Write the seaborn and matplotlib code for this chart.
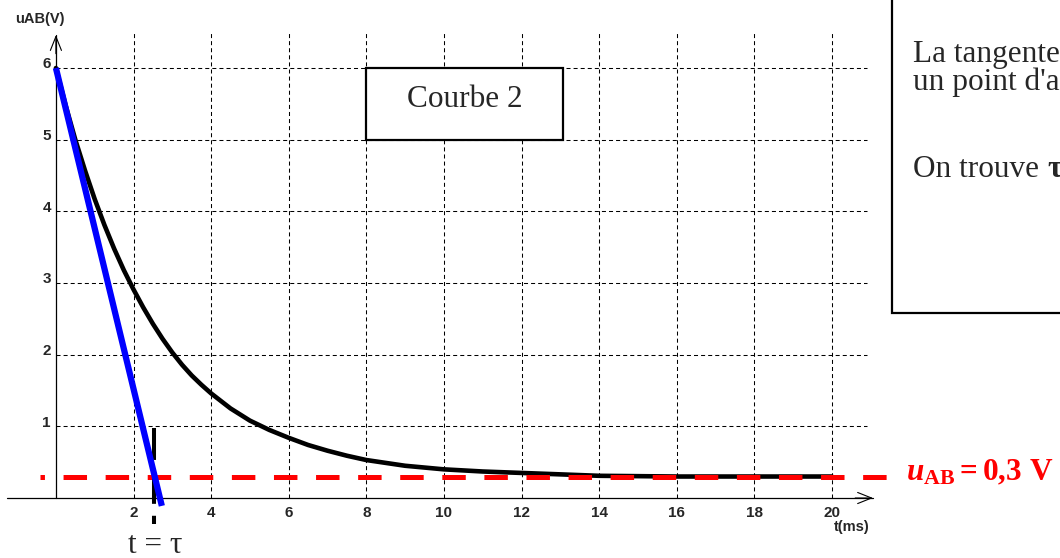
import numpy as np
import pandas as pd
import matplotlib
matplotlib.use("Agg")
import matplotlib.pyplot as plt
from matplotlib.patches import Rectangle
import seaborn as sns

# --------------------------------------------------
# DATA
# --------------------------------------------------

t_ms = [0, 0.25, 0.5, 0.75, 1, 1.25, 1.5, 1.75, 2, 2.25, 2.5, 2.75, 3,
        3.25, 3.5, 3.75, 4, 4.5, 5, 5.5, 6, 6.5, 7, 7.5, 8, 9, 10, 11,
        12, 13, 14, 16, 18, 20]
u_ab = [6.00, 5.48, 5.00, 4.57, 4.17, 3.81, 3.48, 3.18, 2.91, 2.66, 2.43,
        2.22, 2.03, 1.86, 1.71, 1.58, 1.46, 1.25, 1.08, 0.95, 0.84, 0.74,
        0.66, 0.59, 0.53, 0.45, 0.40, 0.37, 0.35, 0.33, 0.31, 0.30, 0.30,
        0.30]

# tangent at the origin
t_tangent = [0, 2.73]
u_tangent = [6.0, -0.11]

u_asymptote = 0.3
tau = 2.53

x_ticks = [2, 4, 6, 8, 10, 12, 14, 16, 18, 20]
y_ticks = [1, 2, 3, 4, 5, 6]

# --------------------------------------------------
# STYLE
# --------------------------------------------------

sns.set_style("white")
plt.rcParams["font.family"] = ["Liberation Serif", "DejaVu Serif"]
plt.rcParams["lines.scale_dashes"] = False
plt.rcParams["mathtext.fontset"] = "custom"
plt.rcParams["mathtext.rm"] = "Liberation Serif:bold"
plt.rcParams["mathtext.it"] = "Liberation Serif:italic:bold"
plt.rcParams["mathtext.bf"] = "Liberation Serif:bold"

SANS = ["Liberation Sans", "DejaVu Sans"]

fig = plt.figure(figsize=(10.6, 5.58), dpi=100)
ax = fig.add_axes([0, 0, 1, 1])
ax.set_xlim(-1.441, 25.879)
ax.set_ylim(-0.837, 6.949)
ax.axis("off")

# --------------------------------------------------
# GRID
# --------------------------------------------------

grid_style = (0, (2.9, 2.2))

ax.vlines(x_ticks, 0, 6.5, colors="black", linewidth=0.75,
          linestyles=[grid_style], zorder=1)
ax.hlines(y_ticks, 0, 20.9, colors="black", linewidth=0.75,
          linestyles=[grid_style], zorder=1)

# --------------------------------------------------
# AXES WITH ARROWS
# --------------------------------------------------

ax.plot([-1.26, 21.06], [0, 0], color="black", lw=0.9, zorder=2)
ax.plot([0, 0], [0, 6.46], color="black", lw=0.9, zorder=2)

arrow = dict(arrowstyle="->, head_length=0.5, head_width=0.2",
             lw=0.8, color="black", mutation_scale=20,
             shrinkA=0, shrinkB=0)
ax.annotate("", xy=(21.06, 0), xytext=(20.6, 0), arrowprops=arrow)
ax.annotate("", xy=(0, 6.46), xytext=(0, 6.2), arrowprops=arrow)

for x in x_ticks:
    ax.text(x, -0.21, str(x), ha="center", va="center",
            family=SANS, fontweight="bold", fontsize=11)

for y in y_ticks:
    ax.text(-0.13, y + 0.05, str(y), ha="right", va="center",
            family=SANS, fontweight="bold", fontsize=11)

ax.text(-0.42, 6.68, "uAB(V)", ha="center", va="center",
        family=SANS, fontweight="bold", fontsize=10.5)
ax.text(20.52, -0.40, "t(ms)", ha="center", va="center",
        family=SANS, fontweight="bold", fontsize=10.5)

# --------------------------------------------------
# CURVE, TANGENT, ASYMPTOTE
# --------------------------------------------------

sns.lineplot(x=t_ms, y=u_ab, ax=ax, color="black", linewidth=3.3,
             zorder=3)

ax.plot([-0.413, 21.42], [u_asymptote, u_asymptote], color="#ff0000",
        linewidth=3.6, linestyle=(13.7, (16.9, 13.4)), zorder=4)

ax.plot([tau, tau], [0.977, -0.363], color="black", linewidth=2.9,
        linestyle=(0, (23, 8.6)), zorder=5)

sns.lineplot(x=t_tangent, y=u_tangent, ax=ax, color="#0000ff",
             linewidth=4.5, zorder=6)
ax.lines[-1].set_solid_capstyle("butt")

# --------------------------------------------------
# ANNOTATIONS
# --------------------------------------------------

ax.add_patch(Rectangle((8, 5), 5.07, 1, facecolor="white",
                       edgecolor="black", linewidth=1.6, zorder=7))
ax.text(10.53, 5.455, "Courbe 2", ha="center", va="baseline",
        fontsize=22.5, zorder=8)

ax.add_patch(Rectangle((21.55, 2.58), 6, 5, facecolor="white",
                       edgecolor="black", linewidth=1.6, zorder=7,
                       clip_on=False))
ax.text(22.09, 6.083, "La tangente", ha="left", va="baseline",
        fontsize=22.5, zorder=8)
ax.text(22.09, 5.69, "un point d'a", ha="left", va="baseline",
        fontsize=22.5, zorder=8)
ax.text(22.09, 4.48, "On trouve", ha="left", va="baseline",
        fontsize=22.5, zorder=8)
ax.text(25.55, 4.48, "τ", ha="left", va="baseline",
        fontsize=22.5, fontweight="bold", zorder=8)

ax.text(21.91, 0.251, r"$u_{\mathrm{AB}} = \mathrm{0{,}3\ V}$",
        color="#ff0000", ha="left", va="baseline", fontsize=22.5)

ax.text(2.55, -0.767, "t = τ", ha="center", va="baseline",
        fontsize=22.5)

fig.savefig("out.png", dpi=100)
